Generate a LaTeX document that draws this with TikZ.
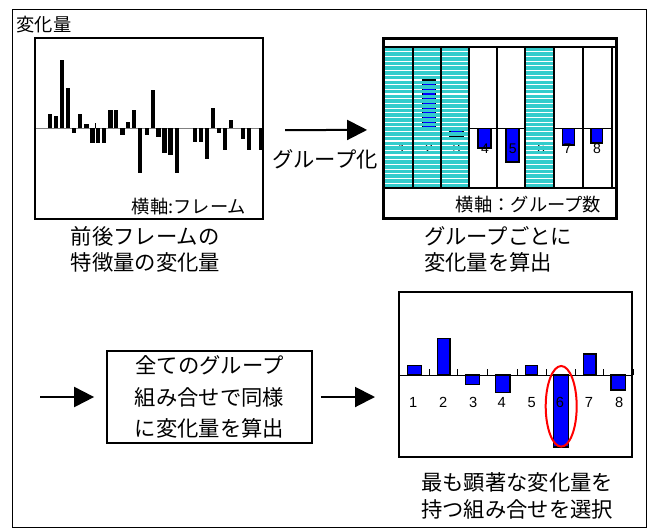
\documentclass[tikz,border=0pt]{standalone}
\usepackage{fontspec}
\setmainfont{Noto Sans CJK JP}
\newfontfamily\arial{Liberation Sans}
\usetikzlibrary{arrows.meta}
\definecolor{cyanc}{HTML}{33CCCC}
\definecolor{barblue}{HTML}{0000FF}
\begin{document}
\begin{tikzpicture}[x=0.75pt,y=-0.75pt,
  bigfont/.style={font=\fontsize{16pt}{19.9pt}\selectfont},
  smallfont/.style={font=\fontsize{13.7pt}{16pt}\selectfont},
  digit/.style={font=\arial\fontsize{10.5pt}{12pt}\selectfont, inner sep=0},
  caption/.style={bigfont, align=left, inner sep=0, anchor=west},
  chartbox/.style={draw=black, line width=1.5pt, inner sep=0, outer sep=0},
  bluebar/.style={fill=barblue, draw=black, line width=1.1pt},
  arr/.style={line width=1.5pt, -{Triangle[length=15pt,width=15pt]}},
  axisline/.style={line width=0.75pt, draw=black}
]
\useasboundingbox (0,0) rectangle (649,529);
% outer frame
\draw[line width=1.2pt] (12.5,9.5) rectangle (646.5,527.5);
\node[smallfont, inner sep=0] (title) at (44,25) {変化量};

% ---------- chart 1 ----------
\draw[line width=0.8pt, gray] (35,128.3) -- (263,128.3);
\foreach \x/\y in {50.3/114.3, 56.3/116, 62/60, 68.2/88.3, 74.3/133.3, 80.2/114.3,
  86.5/124.3, 92.5/143.3, 98.3/143.3, 104.3/143.3, 110.5/110, 116.3/110,
  122.5/135, 128.3/122.3, 134.3/110, 140.3/173.3, 146.7/135, 152.7/90,
  158.5/136.7, 164.5/153.3, 170.5/155, 176.7/173.3, 195/141.7, 201/141.7,
  206.8/159.3, 212.7/107.7, 218.7/133.3, 224.7/150, 230.8/120, 243/139.3,
  248.8/150, 261.3/150}
  \fill[black] ({\x-2.05},128.3) rectangle ({\x+2.05},\y);
\draw[line width=0.5pt] (95.3,128.3) -- (95.3,122.7);
\node[chartbox, minimum width=171pt, minimum height=135.75pt] (c1) at (149,128.5) {};
\node[smallfont, inner sep=0] (c1lab) at (189,207) {横軸:フレーム};

% ---------- chart 2 ----------
\draw[axisline] (384,128.3) -- (612,128.3);
\foreach \x in {469,497.3,525.3,554,582.7,611.7}
  \draw[axisline] (\x,128.3) -- (\x,124.8);
\foreach \xa/\ya/\xb/\yb in {422.7/80/435.7/128.3, 450/128.3/463/136,
  478/128.3/491/148, 506/128.3/519/162, 562.5/128.3/574.5/145, 591/128.3/602.5/143}
  \draw[bluebar] (\xa,\ya) rectangle (\xb,\yb);
\foreach \n/\x in {1/402,2/429,3/456.5,4/485,5/512.7,6/541,7/567.5,8/597}
  \node[digit] (g\n) at (\x,149) {\n};
\foreach \xa/\xb in {384/412.7,412.7/440.7,440.7/469,525.3/554}
  \foreach \k in {0,...,29}
    \fill[cyanc] (\xa,{47.7+\k*4.69}) rectangle (\xb,{47.7+\k*4.69+3.55});
\foreach \x in {412.7,440.7,469,497.3,525.3,554,582.7,611.7}
  \draw[line width=1.5pt] (\x,46.7) -- (\x,188.3);
\draw[line width=1.5pt] (384,46.7) -- (616,46.7);
\draw[line width=1.5pt] (384,188.3) -- (616,188.3);
\node[chartbox, line width=2.2pt, minimum width=174.4pt, minimum height=134.6pt] (c2) at (499.9,128.3) {};
\node[smallfont, inner sep=0] (c2lab) at (528.5,205) {横軸：グループ数};

% arrow 1
\draw[arr, shorten <=16.5pt, shorten >=12.4pt] ([yshift=-1.2pt]c1.east) -- ([yshift=-1.2pt]c2.west);
\node[bigfont, inner sep=0] (glab) at (325,159) {グループ化};

% captions
\node[caption] (cap1) at (70.5,249.5) {前後フレームの\\特徴量の変化量};
\node[caption] (cap2) at (423.8,249.5) {グループごとに\\変化量を算出};

% ---------- middle box ----------
\node[draw=black, line width=1.3pt, minimum width=153.75pt, minimum height=69pt,
  align=center, inner sep=0, font=\fontsize{16pt}{23.8pt}\selectfont] (mid) at (209.5,397)
  {全てのグループ\\組み合せで同様\\に変化量を算出};
\coordinate (inL) at (40,397);
\coordinate (outR) at (375,397);
\draw[arr, shorten >=9pt] (inL) -- (mid.west);
\draw[arr, shorten <=6pt] (mid.east) -- (outR);

% ---------- chart 3 ----------
\draw[axisline] (399.5,375) -- (633.3,375);
\foreach \x in {429.3,457.3,487.3,517.3,546.7,575,603.3,633.3}
  \draw[axisline] (\x,375) -- (\x,369.3);
\foreach \xa/\ya/\xb/\yb in {407.3/365.3/421.7/375, 437.3/338.7/450/375,
  465.7/375/479.3/384.3, 495.3/375/510/392.3, 525.7/365.3/537.7/375,
  553.3/375/568.3/447, 583.3/354/596/375, 611/375/625.7/390}
  \draw[bluebar] (\xa,\ya) rectangle (\xb,\yb);
\foreach \n/\x in {1/413.3,2/443.3,3/473.3,4/501.7,5/531.7,6/560,7/589,8/619.3}
  \node[digit, font=\arial\fontsize{11pt}{12pt}\selectfont] (h\n) at (\x,402.7) {\n};
\draw[red, line width=1.5pt] (561.2,406.3) ellipse [x radius=15.5, y radius=40.3];
\node[chartbox, minimum width=174.2pt, minimum height=123.75pt] (c3) at (515.6,374.4) {};

\node[caption, font=\fontsize{16pt}{20.25pt}\selectfont] (cap3) at (420.8,495.5) {最も顕著な変化量を\\持つ組み合せを選択};
\end{tikzpicture}
\end{document}
